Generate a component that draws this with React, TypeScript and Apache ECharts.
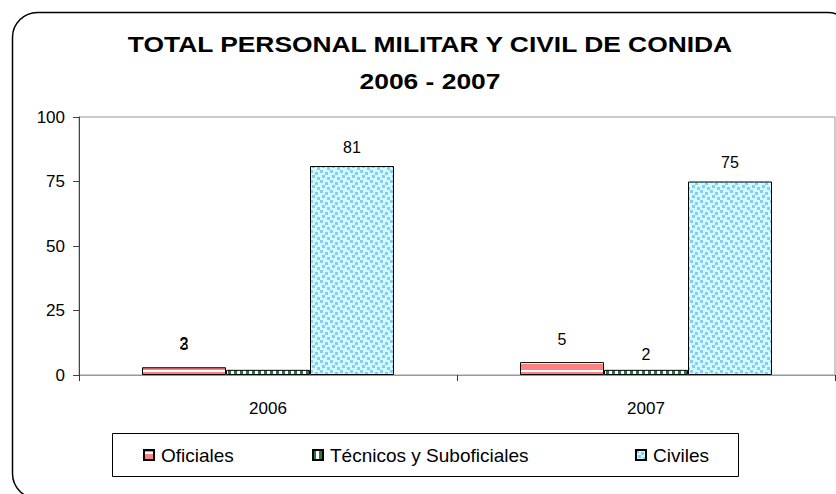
import React, { useEffect, useRef } from "react";
import * as echarts from "echarts";

const categories = ["2006", "2007"];
const seriesNames = ["Oficiales", "Técnicos y Suboficiales", "Civiles"];
const oficiales = [3, 5];
const tecnicos = [2, 2];
const civiles = [81, 75];
const yTicks = [0, 25, 50, 75, 100];
const titleLines = ["TOTAL PERSONAL MILITAR Y CIVIL DE CONIDA", "2006 - 2007"];

const FONT = "'Liberation Sans', Arial, sans-serif";

function makeCanvas(w: number, h: number, draw: (c: CanvasRenderingContext2D) => void) {
  const cv = document.createElement("canvas");
  cv.width = w;
  cv.height = h;
  const ctx = cv.getContext("2d")!;
  draw(ctx);
  return cv;
}

export default function App() {
  const ref = useRef<HTMLDivElement>(null);
  useEffect(() => {
    if (!ref.current) return;
    const chart = echarts.init(ref.current, null, { renderer: "svg" });

    const redPat = makeCanvas(8, 8, (c) => {
      c.fillStyle = "#FF8080";
      c.fillRect(0, 0, 8, 8);
      c.fillStyle = "#FFFFFF";
      c.fillRect(0, 2, 8, 2);
    });
    const greenPat = makeCanvas(6, 2, (c) => {
      c.fillStyle = "#1E7A46";
      c.fillRect(0, 0, 6, 2);
      c.fillStyle = "#FFFFFF";
      c.fillRect(3, 0, 3, 2);
    });
    const bluePat = makeCanvas(10, 10, (c) => {
      c.fillStyle = "#CCFFFF";
      c.fillRect(0, 0, 10, 10);
      c.fillStyle = "#92C6F8";
      const sq = [
        [0, 0], [5, 2], [2, 5], [7, 7],
      ];
      sq.forEach(([x, y]) => c.fillRect(x, y, 3, 3));
    });

    const pats = [redPat, greenPat, bluePat];
    const datas = [oficiales, tecnicos, civiles];
    const distances = [15, 7, 11];

    const labelStyle = (i: number) => ({
      show: true,
      position: "top" as const,
      distance: distances[i],
      color: "#000",
      fontSize: 16,
      fontFamily: FONT,
    });

    const series = seriesNames.map((name, i) => ({
      name,
      type: "bar" as const,
      barWidth: 84,
      barGap: "0%",
      itemStyle: {
        color: { image: pats[i], repeat: "repeat" },
        borderColor: "#000",
        borderWidth: 1,
      },
      label: labelStyle(i),
      data: datas[i].map((v, j) => {
        if (i === 1 && j === 0) {
          return {
            value: v,
            label: { ...labelStyle(i), distance: 18, offset: [-84, 0] },
          };
        }
        return v;
      }),
    }));

    const legendX = [143, 312, 635];
    const legends = seriesNames.map((name, i) => ({
      left: legendX[i],
      top: 445,
      padding: 0,
      itemWidth: 10,
      itemHeight: 10,
      itemGap: 0,
      icon: "rect",
      textStyle: { fontFamily: FONT, fontSize: 19, color: "#000", lineHeight: 20, padding: [0, 0, 0, 2] },
      data: [name],
    }));

    chart.setOption({
      animation: false,
      backgroundColor: "#fff",
      legend: legends,
      grid: {
        left: 79,
        right: 1,
        top: 117,
        bottom: 119,
        show: true,
        borderColor: "#999",
        borderWidth: 1,
        backgroundColor: "transparent",
      },
      xAxis: {
        type: "category",
        data: categories,
        axisLine: { lineStyle: { color: "#999" } },
        axisTick: { show: true, length: 6, lineStyle: { color: "#333" } },
        axisLabel: { fontFamily: FONT, fontSize: 17, color: "#000", margin: 25 },
      },
      yAxis: {
        type: "value",
        min: yTicks[0],
        max: yTicks[yTicks.length - 1],
        interval: 25,
        axisLine: { show: true, lineStyle: { color: "#444" } },
        axisTick: { show: true, length: 6, lineStyle: { color: "#444" } },
        splitLine: { show: false },
        axisLabel: { fontFamily: FONT, fontSize: 17, color: "#000", margin: 14 },
      },
      graphic: [
        {
          type: "rect",
          shape: { x: 12.5, y: 12.5, width: 840, height: 486, r: 25 },
          style: { fill: "none", stroke: "#000", lineWidth: 1.5 },
          silent: true,
        },
        {
          type: "rect",
          shape: { x: 112.5, y: 433.5, width: 626, height: 43 },
          style: { fill: "none", stroke: "#000", lineWidth: 1 },
          silent: true,
        },
        {
          type: "text",
          x: 430,
          y: 44,
          scaleX: 1.2,
          style: {
            text: titleLines[0],
            font: `bold 22px ${FONT}`,
            fill: "#000",
            textAlign: "center",
            textVerticalAlign: "middle",
          },
        },
        {
          type: "text",
          x: 430,
          y: 81,
          scaleX: 1.2,
          style: {
            text: titleLines[1],
            font: `bold 22px ${FONT}`,
            fill: "#000",
            textAlign: "center",
            textVerticalAlign: "middle",
          },
        },
      ],
      series,
    });

    return () => chart.dispose();
  }, []);

  return (
    <div
      ref={ref}
      style={{ position: "absolute", left: 0, top: 0, width: 836, height: 494 }}
    />
  );
}
